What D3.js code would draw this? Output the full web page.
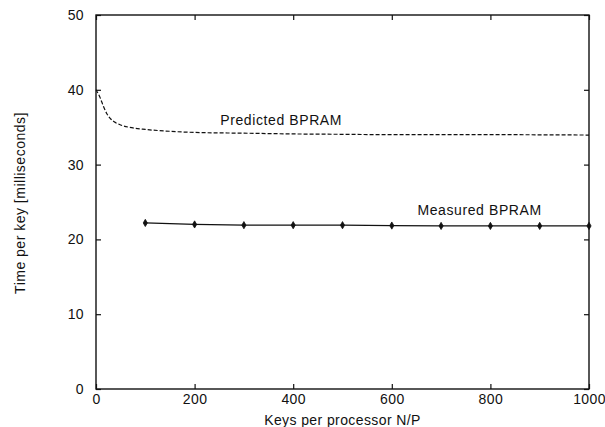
<!DOCTYPE html>
<html>
<head>
<meta charset="utf-8">
<script src="https://cdn.jsdelivr.net/npm/d3@7"></script>
<style>
  body { margin: 0; background: #fff; }
  text { font-family: "Liberation Sans", Arial, sans-serif; fill: #111; }
</style>
</head>
<body>
<div id="chart"></div>
<script>
const measuredKeys = [100, 200, 300, 400, 500, 600, 700, 800, 900, 1000];
const measuredTime = [22.2, 22.0, 21.9, 21.9, 21.9, 21.85, 21.8, 21.8, 21.8, 21.8];

const predictedKeys = [0, 8, 15, 22, 30, 40, 50, 75, 100, 150, 200, 300, 400, 500, 600, 800, 1000];
const predictedTime = [40, 39.0, 37.8, 36.8, 36.1, 35.6, 35.3, 34.9, 34.7, 34.45, 34.3, 34.2, 34.1, 34.05, 34.0, 34.0, 33.95];

const xTicks = [0, 200, 400, 600, 800, 1000];
const yTicks = [0, 10, 20, 30, 40, 50];

const MARGIN = {TOP: 15, BOTTOM: 38, LEFT: 96, RIGHT: 16};
const WIDTH = 605 - MARGIN.LEFT - MARGIN.RIGHT;
const HEIGHT = 427 - MARGIN.TOP - MARGIN.BOTTOM;

const svg = d3.select('#chart').append('svg')
  .attr('width', 605)
  .attr('height', 427);

const g = svg.append('g')
  .attr('transform', `translate(${MARGIN.LEFT}, ${MARGIN.TOP})`);

const x = d3.scaleLinear().domain([0, 1000]).range([0, WIDTH]);
const y = d3.scaleLinear().domain([0, 50]).range([HEIGHT, 0]);

// frame
g.append('rect')
  .attr('width', WIDTH)
  .attr('height', HEIGHT)
  .attr('fill', 'none')
  .attr('stroke', '#111')
  .attr('stroke-width', 1.4);

// ticks, inward on all four sides
const tick = 5;
g.append('g').attr('transform', `translate(0, ${HEIGHT})`)
  .call(d3.axisBottom(x).tickValues(xTicks).tickSize(-tick).tickPadding(5).tickFormat(d3.format('d')))
  .call(a => a.select('.domain').remove());
g.append('g')
  .call(d3.axisTop(x).tickValues(xTicks).tickSize(-tick).tickFormat(''))
  .call(a => a.select('.domain').remove());
g.append('g')
  .call(d3.axisLeft(y).tickValues(yTicks).tickSize(-tick).tickPadding(12))
  .call(a => a.select('.domain').remove());
g.append('g').attr('transform', `translate(${WIDTH}, 0)`)
  .call(d3.axisRight(y).tickValues(yTicks).tickSize(-tick).tickFormat(''))
  .call(a => a.select('.domain').remove());

g.selectAll('.tick line').attr('stroke', '#111').attr('stroke-width', 1.2);
g.selectAll('.tick text')
  .attr('font-size', '14px')
  .style('font-family', '"Liberation Sans", Arial, sans-serif')
  .style('letter-spacing', '0.4px')
  .attr('fill', '#111');

// predicted line
const predicted = predictedKeys.map((k, i) => ({k, t: predictedTime[i]}));
g.append('path')
  .datum(predicted)
  .attr('fill', 'none')
  .attr('stroke', '#111')
  .attr('stroke-width', 1.2)
  .attr('stroke-dasharray', '4,2')
  .attr('d', d3.line().curve(d3.curveMonotoneX).x(d => x(d.k)).y(d => y(d.t)));

// measured line
const measured = measuredKeys.map((k, i) => ({k, t: measuredTime[i]}));
g.append('path')
  .datum(measured)
  .attr('fill', 'none')
  .attr('stroke', '#111')
  .attr('stroke-width', 1.2)
  .attr('d', d3.line().x(d => x(d.k)).y(d => y(d.t)));

g.selectAll('.pt')
  .data(measured)
  .enter().append('path')
  .attr('class', 'pt')
  .attr('transform', d => `translate(${x(d.k)}, ${y(d.t)})`)
  .attr('d', d3.symbol().type(d3.symbolDiamond).size(15))
  .attr('fill', '#111')
  .attr('stroke', '#111')
  .attr('stroke-width', 0.8);

// series labels
g.append('text')
  .attr('x', x(252))
  .attr('y', y(35.3))
  .attr('font-size', '14px')
  .style('letter-spacing', '0.6px')
  .text('Predicted BPRAM');

g.append('text')
  .attr('x', x(652))
  .attr('y', y(23.2))
  .attr('font-size', '14px')
  .style('letter-spacing', '0.6px')
  .text('Measured BPRAM');

// axis titles
svg.append('text')
  .attr('x', MARGIN.LEFT + WIDTH / 2)
  .attr('y', 425)
  .attr('text-anchor', 'middle')
  .attr('font-size', '14px')
  .style('letter-spacing', '0.4px')
  .text('Keys per processor N/P');

svg.append('text')
  .attr('transform', 'translate(25, 203) rotate(-90)')
  .attr('text-anchor', 'middle')
  .attr('font-size', '14px')
  .style('letter-spacing', '0.5px')
  .text('Time per key [milliseconds]');
</script>
</body>
</html>
